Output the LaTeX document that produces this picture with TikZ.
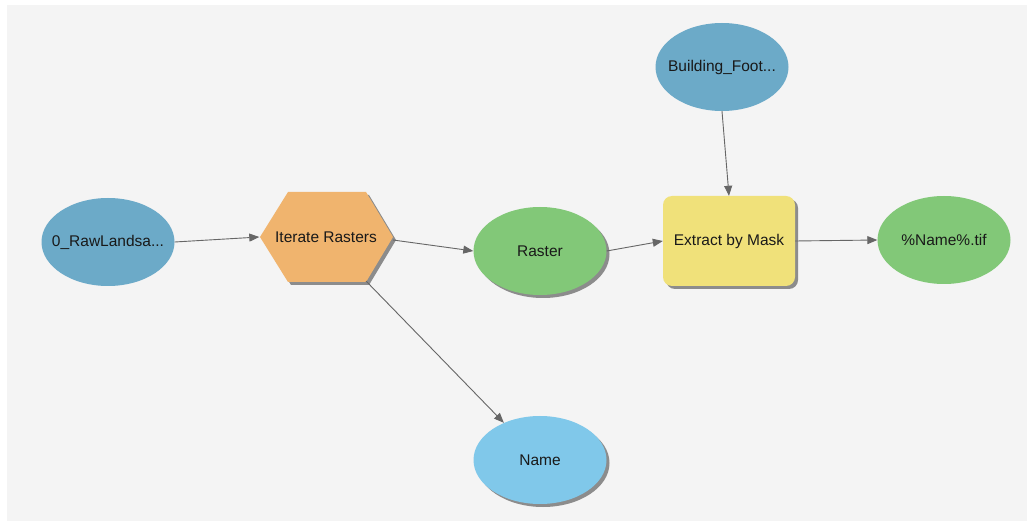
\documentclass[tikz,border=0pt]{standalone}
\usepackage{fontspec}
\setmainfont{Liberation Sans}
\usetikzlibrary{shapes.geometric,arrows.meta,shadows}
\definecolor{bgc}{HTML}{F4F4F4}
\definecolor{datab}{HTML}{6CAAC8}
\definecolor{datag}{HTML}{82C878}
\definecolor{toolo}{HTML}{F0B46E}
\definecolor{tooly}{HTML}{F0E17A}
\definecolor{varb}{HTML}{80C8EA}
\definecolor{edgec}{HTML}{666666}
\definecolor{shc}{HTML}{8C8C8C}
\newcommand{\zbox}[1]{\makebox[0pt]{#1}}
\tikzset{
  x=1pt, y=-1pt,
  base/.style={font=\fontsize{15.5}{18}\selectfont, text=black!90, inner sep=0pt},
  dataov/.style={base, ellipse, minimum width=133pt, minimum height=88pt},
  shad/.style={drop shadow={shadow xshift=3pt, shadow yshift=-3pt, fill=shc, opacity=1}},
  conn/.style={draw=edgec, line width=0.9pt, -{Triangle[length=10pt,width=8pt]}},
}
\begin{document}
\begin{tikzpicture}
\useasboundingbox (0,0) rectangle (1029,521);
\fill[bgc] (7,5) rectangle (1027,521);
% nodes
\node[dataov, fill=datab] (raw) at (108,242) {\zbox{0\_RawLandsa...}};
\fill[shc] (291,195) -- (369,195) -- (396,240) -- (369,285) -- (291,285) -- (263,240) -- cycle;
\path[fill=toolo] (288,192) -- (366,192) -- (393,237) -- (366,282) -- (288,282) -- (260,237) -- cycle;
\node[base, minimum width=133pt, minimum height=90pt] (iter) at (326,237) {\zbox{Iterate Rasters}};
\node[dataov, fill=datag, shad] (raster) at (540,251) {\zbox{Raster}};
\node[dataov, fill=datab] (bld) at (722,67) {\zbox{Building\_Foot...}};
\node[base, fill=tooly, rounded corners=9pt, minimum width=132pt, minimum height=90pt, shad] (ext) at (729,241) {\zbox{Extract by Mask}};
\node[dataov, fill=datag] (out) at (944,240) {\zbox{\%Name\%.tif}};
\node[dataov, fill=varb, shad] (name) at (540,460) {\zbox{Name}};
% connectors
\coordinate (iterR) at (393,240);
\coordinate (iterB) at (366,281);
\draw[conn] (raw.east) -- (iter.west);
\draw[conn] (iterR) -- (raster.west);
\draw[conn] (raster.east) -- (ext.west);
\draw[conn] (ext.east) -- (out.west);
\draw[conn] (bld.south) -- (ext.north);
\draw[conn] (iterB) -- (name);
\end{tikzpicture}
\end{document}
